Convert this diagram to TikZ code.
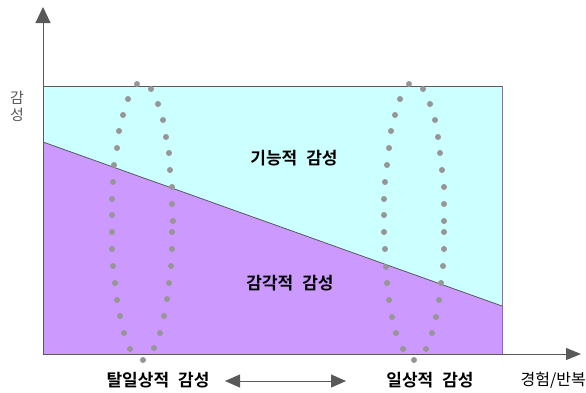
\documentclass[tikz,border=0pt]{standalone}
\usepackage{fontspec}
\newfontfamily\kr{Noto Sans CJK KR}[BoldFont={Noto Sans CJK KR Bold}]
\usetikzlibrary{arrows.meta}
\definecolor{axisgray}{HTML}{595959}
\definecolor{dotgray}{HTML}{969696}
\definecolor{fcyan}{HTML}{CCFFFF}
\definecolor{fpurple}{HTML}{CC99FF}
\newcommand{\wsp}{\hspace{9pt}}
\begin{document}
\begin{tikzpicture}[x=1pt,y=-1pt,
  axis/.style={draw=axisgray,line width=1pt},
  dotmark/.style={fill=dotgray},
  lab/.style={font=\kr\bfseries\fontsize{17}{17}\selectfont,inner sep=0pt}]
\useasboundingbox (0,0) rectangle (586,392);
% regions
\coordinate (o) at (43,354);
\coordinate (tl) at (43,86);
\coordinate (tr) at (502,86);
\coordinate (br) at (502,354);
\coordinate (dl) at (43,142);
\coordinate (dr) at (502,306);
\fill[fcyan] (tl) -- (tr) -- (dr) -- (dl) -- cycle;
\fill[fpurple] (dl) -- (dr) -- (br) -- (o) -- cycle;
\draw[draw=axisgray,line width=0.8pt] (tl) -- (tr);
\draw[draw=fpurple!70!black,line width=0.8pt] (tr) -- (br);
\draw[draw=axisgray,line width=0.8pt] (dl) -- (dr);
% axes
\coordinate (ytip) at (43,7);
\coordinate (xtip) at (581,354);
\draw[axis,-{Triangle[length=16pt,width=15pt]}] (o) -- (ytip);
\draw[axis,-{Triangle[length=15pt,width=12pt]}] (o) -- (xtip);
% dotted loops
\foreach \p in {(137,84),(151,89),(158,104),(163,120),(166,137),(169,153),(170,170),(172,187),(172,204),(173,221),(172,232),(172,249),(171,266),(169,283),(167,299),(164,316),(160,333),(154,348),(143,360),(130,349),(124,333),(120,316),(117,300),(115,283),(113,266),(112,249),(112,232),(112,215),(112,199),(113,182),(114,165),(117,148),(119,131),(123,115),(128,99)}
  \fill[dotmark] \p circle (3);
\foreach \p in {(409,84),(423,89),(430,104),(435,120),(438,137),(440,153),(442,170),(444,187),(444,204),(444,221),(444,232),(444,249),(443,266),(441,283),(439,300),(436,317),(432,333),(426,349),(414,360),(403,349),(396,333),(392,317),(389,300),(387,283),(386,267),(385,249),(384,232),(384,215),(384,199),(385,182),(387,165),(389,148),(391,131),(395,115),(400,99)}
  \fill[dotmark] \p circle (3);
% labels
\node[lab] (func) at (294,158) {기능적\wsp 감성};
\node[lab] (sens) at (290,283) {감각적\wsp 감성};
\node[lab] (tal) at (158,380) {탈일상적\wsp 감성};
\node[lab] (il) at (430,380) {일상적\wsp 감성};
\node[inner sep=0pt,font=\kr\fontsize{16}{16}\selectfont,anchor=east] (exp) at (586,380) {경험/반복};
\node[inner sep=0pt,align=center,text=axisgray,font=\kr\fontsize{15}{17}\selectfont] (ylab) at (17,106) {감\\성};
% double arrow
\coordinate (da) at (225,381);
\coordinate (db) at (346,381);
\draw[axis,{Triangle[length=15pt,width=13pt]}-{Triangle[length=15pt,width=13pt]}] (da) -- (db);
\end{tikzpicture}
\end{document}
